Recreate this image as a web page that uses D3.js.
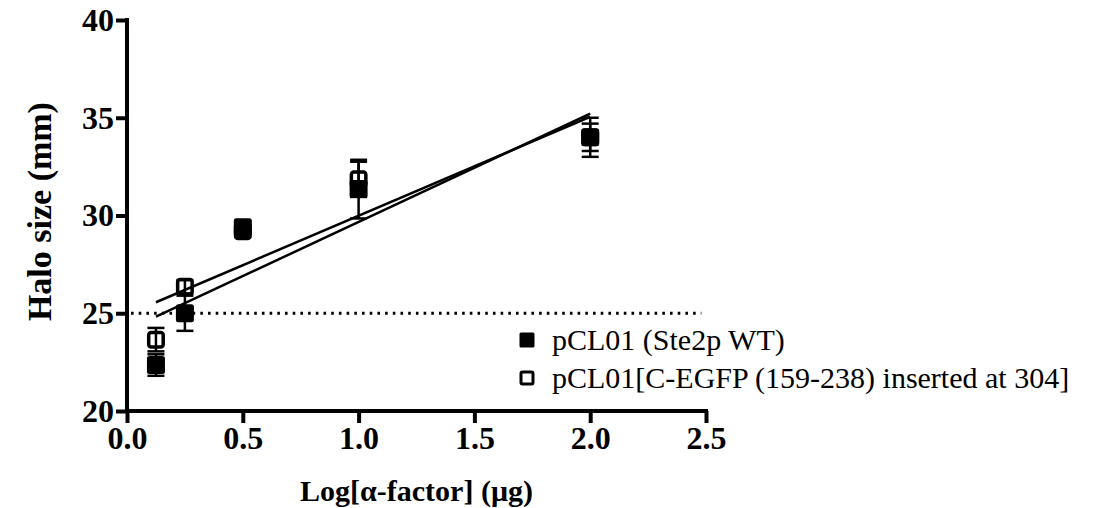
<!DOCTYPE html>
<html>
<head>
<meta charset="utf-8">
<script src="https://cdn.jsdelivr.net/npm/d3@7"></script>
<style>
  html, body { margin: 0; padding: 0; background: #fff; }
  svg text { font-family: "Liberation Serif", "Times New Roman", serif; fill: #000; }
</style>
</head>
<body>
<svg id="chart" width="1103" height="508"></svg>
<script>
// α-factor dose (µg) on the x axis
const doses = [0.125, 0.25, 0.5, 1, 2];

// Halo size (mm), mean and error for each construct
const wtMean   = [22.35, 25.0, 29.4, 31.35, 34.0];
const wtErr    = [0.55, 0.9, 0.25, 1.5, 1.0];
const egfpMean = [23.65, 26.35, 29.2, 31.85, 34.0];
const egfpErr  = [0.6, 0.35, 0.3, 0.9, 0.7];

// Linear fits (slope, intercept) for each construct
const fitSlope     = [5.54, 5.06];
const fitIntercept = [24.13, 24.93];
const fitRange     = [0.125, 2.0];

const seriesNames = ["pCL01 (Ste2p WT)", "pCL01[C-EGFP (159-238) inserted at 304]"];
const xTicks = [0, 0.5, 1.0, 1.5, 2.0, 2.5];
const yTicks = [20, 25, 30, 35, 40];
const threshold = 25;

const svg = d3.select("#chart");
const x = d3.scaleLinear().domain([0, 2.5]).range([127, 706]);
const y = d3.scaleLinear().domain([20, 40]).range([411, 20]);

// Axes
const xAxis = svg.append("g").attr("transform", `translate(0,${y(20)})`)
  .call(d3.axisBottom(x).tickValues(xTicks).tickFormat(d3.format(".1f")).tickSize(12).tickPadding(3));
const yAxis = svg.append("g").attr("transform", `translate(${x(0)},0)`)
  .call(d3.axisLeft(y).tickValues(yTicks).tickFormat(d3.format("d")).tickSize(11).tickPadding(2));

[xAxis, yAxis].forEach(g => {
  g.select(".domain").attr("stroke", "#000").attr("stroke-width", 4).attr("stroke-linecap", "square");
  g.selectAll(".tick line").attr("stroke", "#000").attr("stroke-width", 4);
  g.selectAll(".tick text")
    .style("font-family", '"Liberation Serif", "Times New Roman", serif')
    .style("font-weight", "bold").style("font-size", "32px").attr("fill", "#000");
});
// plain axis lines without the end stubs
xAxis.select(".domain").attr("d", `M${x(0)},0H${x(2.5)}`);
yAxis.select(".domain").attr("d", `M0,${y(40)}V${y(20)}`);

// Axis titles
svg.append("text")
  .attr("x", x(1.25)).attr("y", 501)
  .attr("text-anchor", "middle")
  .style("font-weight", "bold").style("font-size", "30px")
  .text("Log[α-factor] (μg)");
svg.append("text")
  .attr("transform", `translate(51,${y(30.2)}) rotate(-90)`)
  .attr("text-anchor", "middle")
  .style("font-weight", "bold").style("font-size", "34px")
  .text("Halo size (mm)");

// Dotted threshold line
svg.append("line")
  .attr("x1", x(0) + 4).attr("x2", x(2.48))
  .attr("y1", y(threshold)).attr("y2", y(threshold))
  .attr("stroke", "#000").attr("stroke-width", 3)
  .attr("stroke-dasharray", "2.6 5.1");

// Fit lines
fitSlope.forEach((m, i) => {
  svg.append("line")
    .attr("x1", x(fitRange[0])).attr("x2", x(fitRange[1]))
    .attr("y1", y(fitIntercept[i] + m * fitRange[0]))
    .attr("y2", y(fitIntercept[i] + m * fitRange[1]))
    .attr("stroke", "#000").attr("stroke-width", 2.5);
});

const series = [
  { mean: wtMean, err: wtErr, filled: true },
  { mean: egfpMean, err: egfpErr, filled: false }
];
const capHalf = 8.5;
const box = 18;

series.forEach(s => {
  const pts = doses.map((d, i) => ({ x: d, m: s.mean[i], e: s.err[i] }));
  const g = svg.append("g");
  // error bars
  g.selectAll("line.eb").data(pts).join("line")
    .attr("x1", d => x(d.x)).attr("x2", d => x(d.x))
    .attr("y1", d => y(d.m - d.e)).attr("y2", d => y(d.m + d.e))
    .attr("stroke", "#000").attr("stroke-width", 2.5);
  g.selectAll("line.capT").data(pts).join("line")
    .attr("x1", d => x(d.x) - capHalf).attr("x2", d => x(d.x) + capHalf)
    .attr("y1", d => y(d.m + d.e)).attr("y2", d => y(d.m + d.e))
    .attr("stroke", "#000").attr("stroke-width", 2.5);
  g.selectAll("line.capB").data(pts).join("line")
    .attr("x1", d => x(d.x) - capHalf).attr("x2", d => x(d.x) + capHalf)
    .attr("y1", d => y(d.m - d.e)).attr("y2", d => y(d.m - d.e))
    .attr("stroke", "#000").attr("stroke-width", 2.5);
});

// markers on top
series.forEach(s => {
  const pts = doses.map((d, i) => ({ x: d, m: s.mean[i] }));
  const inset = s.filled ? 0 : 1.75;
  svg.append("g").selectAll("rect").data(pts).join("rect")
    .attr("x", d => x(d.x) - box / 2 + inset)
    .attr("y", d => y(d.m) - box / 2 + inset)
    .attr("width", box - 2 * inset)
    .attr("height", box - 2 * inset)
    .attr("rx", 2.5)
    .attr("fill", s.filled ? "#000" : "none")
    .attr("stroke", "#000").attr("stroke-width", s.filled ? 0 : 3.5);
});

// Legend
const legendY = [340, 378];
seriesNames.forEach((name, i) => {
  const filled = series[i].filled;
  const sz = 15;
  const inset = filled ? 0 : 1.5;
  svg.append("rect")
    .attr("x", 527 - sz / 2 + inset).attr("y", legendY[i] - sz / 2 + inset)
    .attr("width", sz - 2 * inset).attr("height", sz - 2 * inset)
    .attr("rx", 1.5)
    .attr("fill", filled ? "#000" : "none")
    .attr("stroke", "#000").attr("stroke-width", filled ? 0 : 3);
  svg.append("text")
    .attr("x", 552).attr("y", legendY[i] + 10)
    .style("font-size", "30px")
    .text(name);
});
</script>
</body>
</html>
